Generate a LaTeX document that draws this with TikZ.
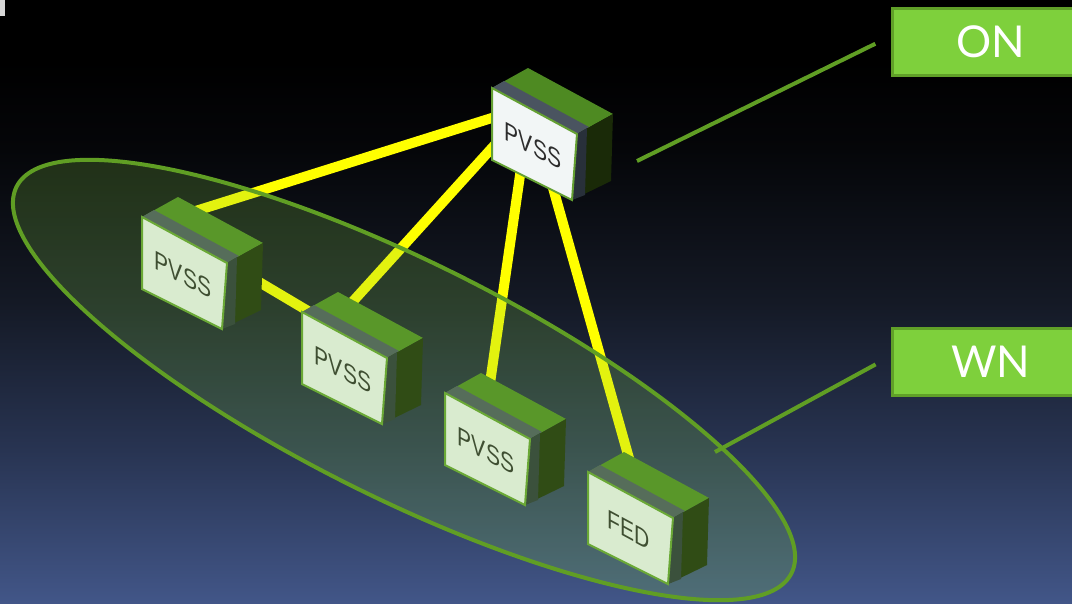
\documentclass[tikz,border=0pt]{standalone}
\usepackage{fontspec}
\setmainfont{Liberation Sans}
\newfontfamily\tagfont{Lato}

\definecolor{skylow}{RGB}{66,86,136}
\definecolor{skymid}{RGB}{40,52,82}
\definecolor{skydark}{RGB}{20,25,37}
\definecolor{skytop}{RGB}{5,6,9}
\definecolor{linkyellow}{RGB}{255,255,0}
\definecolor{lidgreen}{RGB}{78,138,34}
\definecolor{lipgrey}{RGB}{74,84,96}
\definecolor{sidegreen}{RGB}{26,42,8}
\definecolor{sidegrey}{RGB}{40,48,58}
\definecolor{facewhite}{RGB}{242,246,246}
\definecolor{faceedge}{RGB}{100,160,50}
\definecolor{textgrey}{RGB}{45,45,45}
\definecolor{haze}{RGB}{130,200,70}
\definecolor{rimgreen}{RGB}{96,158,36}
\definecolor{tagfill}{RGB}{126,208,60}
\definecolor{tagedge}{RGB}{96,160,40}
\definecolor{titlegrey}{RGB}{215,215,215}

\pgfdeclareverticalshading{nightsky}{100bp}{color(0bp)=(skylow); color(25bp)=(skylow);
  color(37.7bp)=(skymid); color(50bp)=(skydark); color(62.6bp)=(skytop);
  color(70bp)=(black); color(100bp)=(black)}

\pgfdeclarelayer{sky}
\pgfdeclarelayer{links}
\pgfsetlayers{sky,links,main}

\begin{document}
\begin{tikzpicture}[
    x=0.02cm, y=-0.02cm,
    link/.style={draw=linkyellow, line width=0.2cm},
    rim/.style={draw=rimgreen, line width=0.08cm},
    callout/.style={draw=rimgreen, line width=0.08cm, shorten >=0.34cm},
    tag/.style={rectangle, draw=tagedge, fill=tagfill, line width=0.06cm,
        minimum width=3.94cm, minimum height=1.34cm, text=white,
        font=\tagfont\fontsize{25}{30}\selectfont},
    boxtext/.style={text=textgrey, inner sep=0pt, cm={0.8,-0.432,0,1,(0,0)},
        font=\fontsize{15}{18}\selectfont},
    server/.pic={
        % lid, grey lip, side wall, then the labelled front
        \fill[lidgreen] (0,0) -- (36,-20) -- (121,26) -- (85,46) -- cycle;
        \fill[lipgrey] (0,0) -- (12,-7) -- (97,39) -- (85,46) -- cycle;
        \fill[sidegreen] (85,46) -- (121,26) -- (119,93) -- (80,112) -- cycle;
        \fill[sidegrey] (85,46) -- (95,40) -- (93,107) -- (80,112) -- cycle;
        \filldraw[fill=facewhite, draw=faceedge, line width=0.04cm]
            (0,0) -- (85,46) -- (80,112) -- (0,72) -- cycle;
        \node[boxtext] (-name) at (41,58) {#1};
        \coordinate (-hub) at (38,18);
        \coordinate (-top) at (44,-3);
    }
]
\useasboundingbox (0,0) rectangle (1072,603);
\begin{pgfonlayer}{sky}
    \shade[shading=nightsky] (0,0) rectangle (1072,603);
    \fill[titlegrey] (0,0) rectangle (5,16);
\end{pgfonlayer}

% === Machines ===
\pic (top) at (492,88) {server={PVSS}};
\pic (pvssA) at (142,217) {server={PVSS}};
\pic (pvssB) at (302,312) {server={PVSS}};
\pic (pvssC) at (445,393) {server={PVSS}};
\pic (fed) at (588,472) {server={FED}};

% yellow links run behind the boxes
\begin{pgfonlayer}{links}
    \draw[link] (top-hub) -- (pvssA-top);
    \draw[link] (top-hub) -- (pvssB-top);
    \draw[link] (top-hub) -- (pvssC-top);
    \draw[link] (top-hub) -- (fed-top);
    \draw[link] (pvssA-hub) -- (pvssB-hub);
\end{pgfonlayer}

% === Network zone ===
\fill[haze, opacity=0.22, rotate around={-26.5:(404,380)}]
    (404,380) ellipse [x radius=433, y radius=118];
\draw[rim, rotate around={-26.5:(404,380)}]
    (404,380) ellipse [x radius=433, y radius=118];

% === Tags ===
\node[tag] (on) at (990.5,41.5) {ON};
\node[tag] (wn) at (990.5,361.5) {WN};
\coordinate (onfoot) at (637,161);
\coordinate (wnfoot) at (715,452);
\draw[callout] (onfoot) -- (on.177);
\draw[callout] (wnfoot) -- (wn.177);
\end{tikzpicture}
\end{document}
